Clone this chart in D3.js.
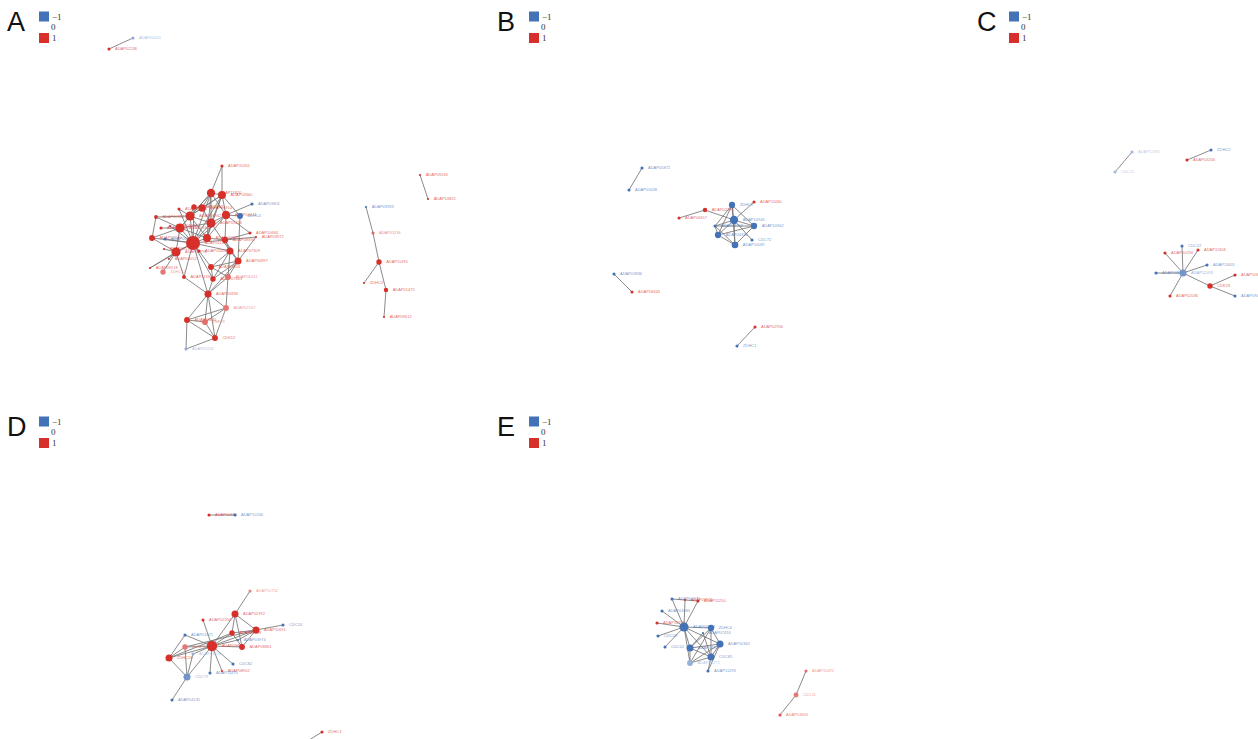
<!DOCTYPE html>
<html>
<head>
<meta charset="utf-8">
<script src="https://cdn.jsdelivr.net/npm/d3@7"></script>
<style>
  html, body { margin: 0; padding: 0; background: #ffffff; }
  svg { display: block; }
</style>
</head>
<body>
<svg id="chart" width="1258" height="739"></svg>
<script>
// Co-expression sub-networks, five modules (A–E).
// Each node: [name, layoutX, layoutY, regulation value (-1..1), degree]
// Layout coordinates are in the module's own layout space.

const panelLetters = ["A", "B", "C", "D", "E"];
const legendValues = [-1, 0, 1];

const nodesA = [
  ["ADAP00451", 133, 38, -0.6, 2], ["ADAP02236", 109, 49, 1, 2],
  ["ADAP10451", 222, 166, 1, 2], ["ADAP11820", 211, 193, 1, 14], ["ADAP03360", 222, 195, 1, 13],
  ["ADAP03811", 252, 204, -1, 2], ["ZDHC4", 240, 216, -1, 7], ["ADAP11562", 194, 207, 1, 6],
  ["ADAP06914", 202, 208, 1, 11], ["ADAP07715", 179, 209, 1, 2], ["ADAP00382", 156, 217, 1, 3],
  ["ADAP09942", 190, 216, 1, 17], ["ADAP05210", 211, 223, 1, 17], ["ADAP04471", 226, 215, 1, 14],
  ["ADAP02107", 161, 228, 1, 2], ["ADAP01639", 180, 228, 1, 17], ["ADAP08125", 170, 226, 1, 1],
  ["ADAP10664", 250, 233, 1, 2], ["ADAP03972", 256, 237, 1, 1], ["ADAP12240", 152, 238, 1, 7],
  ["ADAP06633", 165, 239, -1, 2], ["ADAP04418", 207, 238, 1, 13], ["ADAP01127", 193, 243, 1, 40],
  ["ADAP08390", 225, 240, 1, 8], ["ADAP11006", 199, 251, 1, 2], ["ADAP02791", 176, 252, 1, 17],
  ["ADAP05573", 164, 249, 1, 1], ["ADAP07309", 230, 251, 1, 10], ["ADAP00897", 238, 261, 1, 10],
  ["ADAP09518", 150, 268, 1, 1], ["ADAP04052", 169, 259, 1, 1], ["ZDHC12", 163, 272, 0.65, 6],
  ["ADAP03116", 211, 267, 1, 7], ["ADAP11390", 184, 277, 1, 3], ["ADAP06241", 228, 277, 0.7, 7],
  ["ADAP07463", 213, 279, 1, 6], ["ADAP01836", 208, 294, 1, 10], ["ADAP02207", 226, 308, 0.65, 7],
  ["ADAP08845", 187, 320, 1, 7], ["ZNF23", 205, 322, 0.7, 7], ["CDK12", 215, 338, 1, 7],
  ["ADAP05531", 186, 349, -0.6, 2],
  ["ADAP09034", 420, 175, 1, 1], ["ADAP10822", 428, 199, 1, 1], ["ADAP03983", 366, 207, -1, 1],
  ["ADAP01136", 373, 233, 0.75, 2], ["ADAP11495", 379, 262, 1, 6], ["ZDHC3", 364, 283, 1, 1],
  ["ADAP01472", 386, 290, 1, 4], ["ADAP09612", 384, 317, 1, 1]
];
const linksA = [
  [0,1],
  [2,3],[2,4],[3,4],[3,11],[3,8],[3,12],[3,21],[3,13],[3,15],[3,22],
  [4,13],[4,12],[4,11],[4,21],[4,8],[4,6],[4,22],[5,13],[6,13],[6,28],
  [7,8],[7,11],[7,22],[9,11],[9,22],[10,15],[10,19],[10,11],[11,15],[11,12],
  [11,22],[11,21],[11,8],[8,12],[12,22],[12,13],[12,21],[12,15],[12,27],
  [13,22],[13,21],[13,23],[13,17],[14,15],[15,22],[15,19],[15,25],[15,21],
  [16,22],[17,23],[18,23],[18,28],[19,22],[19,25],[20,22],[21,22],[21,23],
  [22,23],[22,25],[22,24],[22,27],[22,32],[22,36],[22,35],[22,33],[22,29],
  [23,27],[23,28],[25,26],[25,31],[25,33],[25,29],[25,30],[27,28],[27,32],
  [27,35],[27,34],[28,32],[28,34],[28,35],[28,36],[32,34],[32,35],[35,36],
  [34,36],[33,36],[36,37],[36,38],[36,39],[36,40],[37,38],[37,39],[37,40],
  [34,37],[38,39],[38,40],[38,41],[39,40],[40,41],
  [42,43],[44,45],[45,46],[46,47],[46,48],[48,49]
];

const nodesB = [
  ["ADAP05872", 152, 168, -1, 2], ["ADAP03428", 139, 190, -1, 2],
  ["ADAP02293", 215, 210, 1, 4], ["ADAP06617", 189, 218, 1, 2],
  ["ADAP11080", 264, 202, 1, 2], ["ZDHC5", 242, 205, -1, 8], ["ADAP10945", 244, 220, -1, 14],
  ["ADAP10962", 264, 226, -1, 8], ["ADAP07702", 225, 226, -1, 2], ["ADAP04336", 228, 235, -1, 8],
  ["ADAP10087", 245, 245, -1, 9], ["CDC72", 262, 240, -1, 2],
  ["ADAP03836", 124, 274, -1, 2], ["ADAP08443", 142, 292, 1, 2],
  ["ADAP02956", 265, 327, 1, 2], ["ZDHC1", 247, 346, -1, 2]
];
const linksB = [
  [0,1],[2,3],[2,6],[4,6],[5,6],[5,7],[5,8],[5,9],[5,10],[6,7],[6,8],
  [6,9],[6,10],[6,11],[7,9],[7,10],[8,10],[9,10],[7,8],[8,9],[12,13],[14,15]
];

const nodesC = [
  ["ADAP12391", 162, 152, -0.5, 2], ["CDC11", 145, 172, -0.5, 2],
  ["ZDHC2", 241, 150, -1, 2], ["ADAP03206", 217, 160, 1, 2],
  ["ADAP12093", 213, 273, -0.75, 10], ["CDC22", 212, 246, -1, 2], ["ADAP10294", 195, 253, 1, 2],
  ["ADAP11308", 228, 250, 1, 2], ["ADAP11605", 237, 265, -1, 2], ["ADAP08817", 186, 273, -1, 2],
  ["ADAP10613", 265, 275, 1, 2], ["CDK23", 240, 286, 1, 6], ["ADAP02036", 200, 296, 1, 2],
  ["ADAP09417", 265, 296, -1, 2]
];
const linksC = [
  [0,1],[2,3],[4,5],[4,6],[4,7],[4,8],[4,9],[4,11],[4,12],[11,10],[11,13]
];

const nodesD = [
  ["ADAP00631", 209, 110, 1, 2], ["ADAP10206", 235, 110, -1, 2],
  ["ADAP10752", 250, 186, 0.6, 2], ["ADAP02392", 235, 209, 1, 10], ["ADAP02204", 203, 215, 1, 2],
  ["CDC24", 283, 220, -1, 2], ["ADAP11691", 256, 225, 1, 10], ["ADAP06128", 232, 228, 1, 6],
  ["ADAP01671", 185, 230, -1, 2], ["ADAP03974", 238, 235, -1, 1], ["ADAP09805", 212, 241, 1, 22],
  ["ADAP08861", 242, 242, 1, 7], ["ADAP05347", 185, 242, 0.65, 6], ["ADAP04418", 193, 249, -0.55, 2],
  ["ZDHC18", 169, 253, 1, 10], ["CDC82", 233, 259, -1, 2], ["ADAP08902", 222, 266, 1, 1],
  ["ADAP11470", 210, 268, -1, 2], ["CDC79", 187, 272, -0.75, 10], ["ADAP04135", 172, 295, -1, 2],
  ["ZDHC3", 322, 327, 1, 2], ["ADAP07120", 290, 347, 1, 2]
];
const linksD = [
  [0,1],[2,3],[3,10],[3,6],[3,7],[3,11],[4,10],[5,6],[6,7],[6,10],[6,11],
  [7,10],[7,11],[8,10],[8,14],[9,10],[9,6],[10,11],[10,12],[10,13],[10,14],
  [10,15],[10,16],[10,17],[10,18],[12,14],[12,18],[13,18],[14,18],[18,19],
  [12,6],[14,7],[20,21]
];

const nodesE = [
  ["ADAP02471", 182, 194, -1, 2], ["ADAP09925", 195, 195, 1, 1], ["ADAP11250", 208, 196, 1, 2],
  ["ADAP04983", 172, 206, -1, 2], ["ADAP10708", 167, 218, 1, 2], ["ADAP06264", 194, 222, -1, 17],
  ["ZDHC6", 221, 223, -1, 8], ["CDC09", 168, 231, -1, 2], ["ADAP07416", 213, 228, -1, 1],
  ["ADAP10362", 230, 239, -1, 10], ["CDC02", 175, 242, -1, 2], ["ADAP04957", 200, 243, -1, 10],
  ["CDC85", 221, 252, -1, 10], ["ADAP01273", 200, 258, -0.55, 7], ["ADAP11293", 218, 266, -1, 2],
  ["ADAP10472", 316, 266, 0.7, 2], ["CDC11", 306, 290, 0.65, 5], ["ADAP03803", 290, 310, 0.85, 2]
];
const linksE = [
  [5,0],[5,1],[5,2],[5,3],[5,4],[5,7],[5,10],[5,6],[5,11],[5,12],[5,13],[5,9],
  [0,2],[6,9],[6,11],[6,12],[6,13],[9,11],[9,12],[9,13],[11,12],[11,13],[12,13],
  [12,14],[8,12],[8,11],[9,14],[15,16],[16,17]
];

const nodeSets = [nodesA, nodesB, nodesC, nodesD, nodesE];
const linkSets = [linksA, linksB, linksC, linksD, linksE];

// ---- drawing ----
const svg = d3.select("#chart");
const W = 1258, H = 739;

// panel boxes on the page
const boxes = [
  { x: 0,   y: 0 },
  { x: 490, y: 0 },
  { x: 970, y: 0 },
  { x: 0,   y: 405 },
  { x: 490, y: 405 }
];
const layoutW = 480, layoutH = 400;

const color = d3.scaleLinear()
  .domain([-1, 0, 1])
  .range(["#4472b7", "#ffffff", "#d7302a"])
  .interpolate(d3.interpolateRgb)
  .clamp(true);

const radius = d3.scaleSqrt().domain([0, 40]).range([0, 7]);

// clip everything to the page
svg.append("defs").append("clipPath").attr("id", "page")
  .append("rect").attr("width", W).attr("height", H);

nodeSets.forEach((nodes, p) => {
  const b = boxes[p];
  const xs = d3.scaleLinear().domain([0, layoutW]).range([b.x, b.x + layoutW]);
  const ys = d3.scaleLinear().domain([0, layoutH]).range([b.y, b.y + layoutH]);

  const g = svg.append("g").attr("clip-path", "url(#page)");

  // panel letter
  g.append("text")
    .attr("x", xs(7))
    .attr("y", ys(31))
    .attr("font-family", "Liberation Sans, Arial, sans-serif")
    .attr("font-size", 27)
    .attr("fill", "#111")
    .text(panelLetters[p]);

  // legend
  const lg = g.append("g");
  const legY = d3.scalePoint().domain(legendValues).range([ys(16.5), ys(38)]);
  lg.selectAll("rect")
    .data(legendValues.filter(v => v !== 0))
    .join("rect")
    .attr("x", xs(39))
    .attr("y", d => legY(d) - 5)
    .attr("width", 10)
    .attr("height", 10)
    .attr("fill", d => color(d));
  lg.selectAll("text")
    .data(legendValues)
    .join("text")
    .attr("x", d => d === 0 ? xs(51) : xs(52))
    .attr("y", d => legY(d) + 3)
    .attr("font-family", "Liberation Serif, Times New Roman, serif")
    .attr("font-size", 9)
    .attr("fill", "#333")
    .text(d => d === -1 ? "\u22121" : String(d));

  // edges
  g.append("g")
    .selectAll("line")
    .data(linkSets[p])
    .join("line")
    .attr("x1", d => xs(nodes[d[0]][1]))
    .attr("y1", d => ys(nodes[d[0]][2]))
    .attr("x2", d => xs(nodes[d[1]][1]))
    .attr("y2", d => ys(nodes[d[1]][2]))
    .attr("stroke", "#777777")
    .attr("stroke-opacity", 0.85)
    .attr("stroke-width", 1);

  // node labels (behind the dots)
  g.append("g")
    .selectAll("text")
    .data(nodes)
    .join("text")
    .attr("x", d => xs(d[1]) + Math.max(radius(d[4]), 1.2) + 4.5)
    .attr("y", d => ys(d[2]) + 1.4)
    .attr("font-family", "Liberation Sans, Arial, sans-serif")
    .attr("font-size", 4)
    .attr("fill", d => color(d[3]))
    .attr("fill-opacity", 0.75)
    .text(d => d[0]);

  // nodes
  g.append("g")
    .selectAll("circle")
    .data(nodes)
    .join("circle")
    .attr("cx", d => xs(d[1]))
    .attr("cy", d => ys(d[2]))
    .attr("r", d => Math.max(radius(d[4]), 1.1))
    .attr("fill", d => color(d[3]));
});
</script>
</body>
</html>
